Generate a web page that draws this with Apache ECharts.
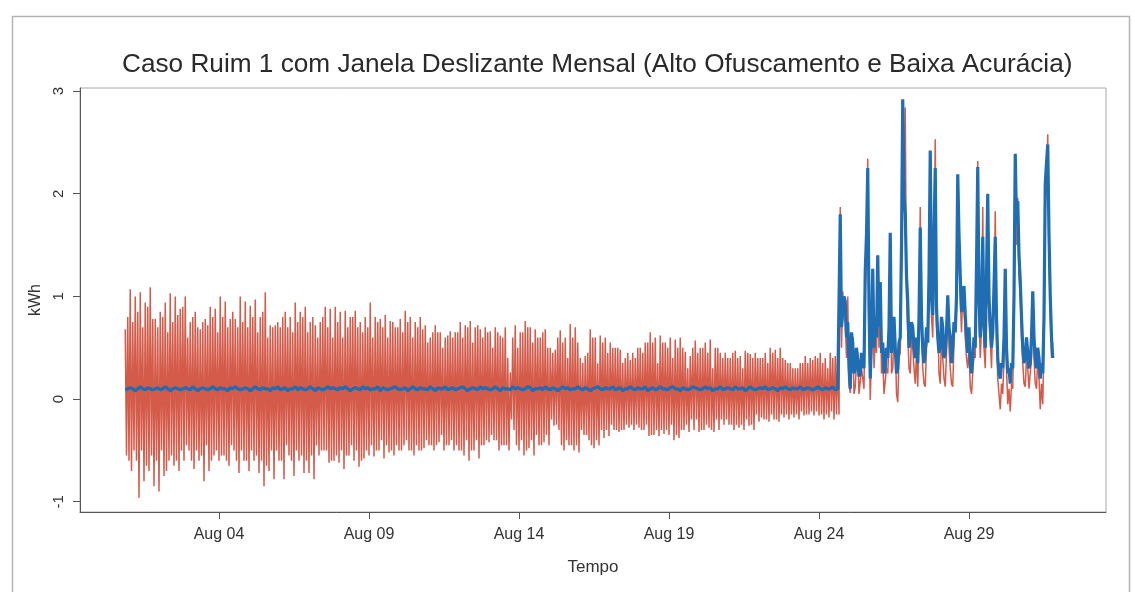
<!DOCTYPE html>
<html>
<head>
<meta charset="utf-8">
<script src="https://cdn.jsdelivr.net/npm/echarts@6/dist/echarts.min.js"></script>
<style>
html,body{margin:0;padding:0;background:#fff;}
#chart{width:1135px;height:592px;}
</style>
</head>
<body>
<div id="chart"></div>
<script>
// ---- data (local time) ----
const seriesStart = [2015, 6, 31, 21]; // Jul 31 21:00
const stepHoursObfA = 1; // obfuscated readings before the change: hourly
const stepHoursRealA = 2; // real readings before the change: every 2 hours
const stepHoursB = 1;    // all readings after the change: hourly
const changeHour = 572;  // hours after start when the window changes
const xTickDays = [4, 9, 14, 19, 24, 29];
const xTickLabels = ['Aug 04', 'Aug 09', 'Aug 14', 'Aug 19', 'Aug 24', 'Aug 29'];
const yTicks = [-1, 0, 1, 2, 3];

// obfuscated series (red), hourly, before the window change (one row per day)
const obfuscatedA = [
  0.68,-0.55,0.8,-0.6,1.07,-0.7,0.75,-0.5,1.0,-0.6,0.85,-0.96,1.04,-0.5,0.7,-0.8,0.94,-0.65,0.9,-0.7,1.09,-0.55,0.78,-0.85,
  0.78,-0.6,0.7,-0.9,0.85,-0.5,0.8,-0.75,0.94,-0.7,0.65,-0.6,1.03,-0.55,0.75,-0.65,1.0,-0.6,0.82,-0.7,0.88,-0.5,0.9,-0.6,
  1.0,-0.45,0.6,-0.5,0.75,-0.6,0.8,-0.68,0.85,-0.5,0.7,-0.6,0.68,-0.55,0.75,-0.8,0.78,-0.45,0.72,-0.7,0.9,-0.6,0.8,-0.55,
  0.88,-0.5,0.65,-0.6,1.0,-0.55,0.8,-0.55,0.95,-0.6,0.7,-0.65,0.78,-0.45,0.85,-0.5,0.78,-0.6,0.7,-0.72,1.0,-0.5,0.75,-0.6,
  0.95,-0.6,0.7,-0.7,0.91,-0.5,0.8,-0.6,0.97,-0.55,0.65,-0.72,0.8,-0.6,0.85,-0.85,1.04,-0.65,0.6,-0.7,0.72,-0.5,0.7,-0.78,
  0.72,-0.5,0.75,-0.6,0.7,-0.6,0.8,-0.78,0.85,-0.45,0.7,-0.55,0.8,-0.6,0.65,-0.75,0.94,-0.5,0.75,-0.6,0.85,-0.55,0.8,-0.72,
  0.9,-0.6,0.65,-0.72,0.75,-0.55,0.8,-0.78,0.72,-0.45,0.6,-0.55,0.75,-0.5,0.8,-0.5,0.9,-0.5,0.7,-0.62,0.88,-0.6,0.6,-0.6,
  0.9,-0.55,0.75,-0.62,0.85,-0.5,0.6,-0.68,0.86,-0.55,0.7,-0.55,0.8,-0.45,0.8,-0.6,0.86,-0.5,0.7,-0.66,0.75,-0.6,0.65,-0.58,
  0.8,-0.5,0.7,-0.55,0.94,-0.45,0.6,-0.56,0.8,-0.5,0.75,-0.5,0.78,-0.4,0.7,-0.58,0.82,-0.45,0.6,-0.52,0.76,-0.5,0.75,-0.55,
  0.7,-0.45,0.7,-0.5,0.78,-0.5,0.65,-0.45,0.86,-0.4,0.75,-0.5,0.8,-0.5,0.6,-0.55,0.75,-0.45,0.7,-0.5,0.8,-0.5,0.68,-0.48,
  0.72,-0.4,0.55,-0.45,0.6,-0.45,0.65,-0.5,0.72,-0.45,0.65,-0.42,0.65,-0.35,0.5,-0.5,0.6,-0.45,0.62,-0.45,0.66,-0.4,0.6,-0.5,
  0.65,-0.45,0.65,-0.5,0.75,-0.5,0.6,-0.55,0.72,-0.4,0.7,-0.6,0.76,-0.5,0.55,-0.5,0.7,-0.4,0.72,-0.58,0.68,-0.45,0.6,-0.45,
  0.7,-0.4,0.65,-0.42,0.66,-0.35,0.5,-0.4,0.7,-0.4,0.65,-0.5,0.62,-0.45,0.6,-0.45,0.7,-0.45,0.4,-0.5,0.26,-0.2,0.6,-0.3,
  0.72,-0.45,0.5,-0.5,0.65,-0.4,0.65,-0.55,0.76,-0.5,0.7,-0.48,0.7,-0.4,0.55,-0.55,0.68,-0.35,0.6,-0.45,0.6,-0.45,0.65,-0.42,
  0.68,-0.35,0.5,-0.45,0.5,-0.2,0.45,-0.26,0.48,-0.25,0.6,-0.3,0.67,-0.45,0.55,-0.5,0.6,-0.4,0.4,-0.45,0.73,-0.45,0.6,-0.5,
  0.7,-0.45,0.55,-0.52,0.4,-0.3,0.35,-0.35,0.42,-0.35,0.45,-0.4,0.68,-0.45,0.6,-0.48,0.6,-0.4,0.35,-0.45,0.62,-0.3,0.55,-0.38,
  0.6,-0.3,0.45,-0.36,0.55,-0.25,0.5,-0.3,0.5,-0.3,0.5,-0.32,0.48,-0.3,0.35,-0.3,0.4,-0.25,0.45,-0.28,0.38,-0.25,0.45,-0.3,
  0.4,-0.25,0.5,-0.28,0.5,-0.3,0.45,-0.3,0.55,-0.25,0.55,-0.36,0.65,-0.35,0.55,-0.35,0.6,-0.3,0.35,-0.36,0.62,-0.3,0.55,-0.34,
  0.55,-0.3,0.5,-0.35,0.6,-0.25,0.4,-0.4,0.58,-0.35,0.5,-0.38,0.6,-0.3,0.5,-0.3,0.46,-0.25,0.3,-0.32,0.42,-0.2,0.5,-0.3,
  0.57,-0.2,0.45,-0.32,0.5,-0.3,0.5,-0.3,0.55,-0.25,0.45,-0.28,0.58,-0.3,0.3,-0.32,0.5,-0.2,0.5,-0.3,0.45,-0.2,0.4,-0.25,
  0.45,-0.2,0.4,-0.25,0.4,-0.25,0.45,-0.3,0.47,-0.25,0.4,-0.28,0.42,-0.25,0.3,-0.3,0.47,-0.2,0.45,-0.26,0.44,-0.25,0.4,-0.3,
  0.45,-0.15,0.4,-0.22,0.4,-0.18,0.4,-0.2,0.45,-0.2,0.35,-0.22,0.5,-0.15,0.45,-0.2,0.48,-0.2,0.4,-0.22,0.5,-0.15,0.4,-0.18,
  0.38,-0.15,0.35,-0.2,0.35,-0.15,0.3,-0.18,0.3,-0.15,0.3,-0.2,0.35,-0.12,0.35,-0.16,0.42,-0.15,0.35,-0.15,0.4,-0.12,0.38,-0.16,
  0.42,-0.12,0.4,-0.16,0.45,-0.15,0.35,-0.2,0.4,-0.15,0.3,-0.18,0.45,-0.12,0.4,-0.2,0.42,-0.15,0.4,-0.15
];
// obfuscated series (red), hourly, after the window change
const obfuscatedB = [
  1.87,0.5,1.05,0.8,0.75,0.4,1.0,0.15,0.06,0.45,0.6,0.05,0.12,0.35,0.45,0.05,0.05,0.3,0.3,0.1,1.1,1.4,2.34,0.7,
  -0.01,0.45,1.2,0.3,0.6,0.45,1.2,0.5,1.1,0.25,0.4,0.05,0.06,0.3,0.25,0.55,1.5,0.25,0.3,0.65,0.6,0.05,-0.03,0.4,
  0.45,1.3,2.5,2.1,2.84,1.0,1.0,0.3,0.25,0.6,0.5,0.3,0.15,0.45,0.12,0.65,1.87,0.6,0.3,0.15,0.12,0.5,0.6,1.0,
  2.3,0.8,0.6,1.4,2.53,0.7,0.75,0.25,0.15,0.6,0.4,0.2,0.12,0.45,0.9,0.5,0.3,0.15,0.12,0.55,0.8,0.85,1.95,1.4,
  1.0,0.65,1.1,0.9,0.6,0.4,0.3,0.5,0.12,0.05,0.25,0.45,0.4,1.1,2.32,0.8,0.4,0.7,1.87,0.5,0.3,1.0,1.8,0.8,
  0.6,0.3,0.8,0.9,1.83,0.6,0.2,0.05,-0.1,0.15,0.05,0.4,1.1,0.3,-0.05,0.1,-0.12,0.15,0.1,0.8,2.2,1.5,1.96,1.2,
  1.0,0.6,0.35,0.15,0.12,0.4,0.3,0.1,0.1,0.4,0.95,0.4,0.15,0.1,0.4,0.2,-0.1,0.15,-0.05,0.6,1.9,2.1,2.58,1.4,
  0.85,0.4,0.55
];
// real consumption (blue), every 2 hours, before the window change
const realA = [
  0.09,0.1,0.11,0.1,0.08,0.1,0.12,0.1,0.09,0.11,0.1,0.09,
  0.1,0.11,0.09,0.1,0.12,0.1,0.08,0.1,0.11,0.1,0.09,0.1,
  0.11,0.1,0.09,0.12,0.1,0.08,0.1,0.11,0.1,0.09,0.1,0.12,
  0.1,0.09,0.11,0.1,0.1,0.08,0.11,0.1,0.12,0.1,0.09,0.1,
  0.11,0.1,0.08,0.1,0.12,0.1,0.09,0.11,0.1,0.1,0.08,0.11,
  0.1,0.12,0.09,0.1,0.11,0.08,0.1,0.1,0.12,0.09,0.11,0.1,
  0.09,0.1,0.12,0.1,0.08,0.11,0.1,0.09,0.1,0.12,0.1,0.11,
  0.1,0.09,0.11,0.1,0.12,0.1,0.08,0.1,0.11,0.1,0.09,0.12,
  0.1,0.11,0.09,0.1,0.1,0.12,0.08,0.11,0.1,0.09,0.1,0.11,
  0.12,0.1,0.09,0.1,0.11,0.08,0.1,0.12,0.1,0.09,0.11,0.1,
  0.1,0.09,0.12,0.1,0.08,0.11,0.1,0.1,0.12,0.09,0.1,0.11,
  0.09,0.1,0.11,0.12,0.1,0.08,0.1,0.11,0.1,0.09,0.12,0.1,
  0.11,0.1,0.09,0.1,0.12,0.1,0.08,0.11,0.1,0.1,0.09,0.12,
  0.1,0.11,0.1,0.09,0.1,0.12,0.11,0.08,0.1,0.1,0.11,0.09,
  0.12,0.1,0.09,0.11,0.1,0.08,0.1,0.12,0.1,0.11,0.09,0.1,
  0.1,0.12,0.1,0.09,0.11,0.1,0.08,0.1,0.11,0.12,0.1,0.09,
  0.11,0.1,0.1,0.12,0.09,0.1,0.11,0.08,0.1,0.1,0.12,0.1,
  0.09,0.11,0.1,0.1,0.12,0.08,0.1,0.11,0.09,0.1,0.12,0.1,
  0.1,0.09,0.11,0.12,0.1,0.1,0.08,0.11,0.1,0.09,0.1,0.12,
  0.11,0.1,0.09,0.1,0.12,0.1,0.11,0.08,0.1,0.1,0.12,0.09,
  0.1,0.11,0.1,0.09,0.12,0.1,0.1,0.11,0.08,0.1,0.12,0.1,
  0.09,0.1,0.11,0.1,0.12,0.09,0.1,0.11,0.1,0.08,0.11,0.1,
  0.12,0.1,0.09,0.11,0.1,0.1,0.12,0.09,0.1,0.11,0.1,0.09,
  0.1,0.12,0.1,0.09,0.11,0.1,0.1,0.12,0.09,0.1
];
// real consumption (blue), hourly, after the window change
const realB = [
  1.8,0.7,0.85,1.0,0.95,0.6,0.75,0.3,0.1,0.65,0.55,0.25,0.3,0.5,0.38,0.22,0.25,0.45,0.4,0.3,1.25,1.6,2.25,0.9,
  0.2,0.6,1.27,0.5,0.8,0.6,1.4,0.7,1.14,0.45,0.55,0.25,0.3,0.5,0.4,0.7,1.62,0.45,0.55,0.8,0.5,0.25,0.3,0.55,
  0.6,1.5,2.92,2.0,1.8,1.2,0.95,0.5,0.6,0.75,0.7,0.5,0.4,0.6,0.35,0.8,1.67,0.8,0.5,0.35,0.45,0.7,0.55,1.2,
  2.42,1.0,0.82,1.6,2.25,0.9,0.6,0.45,0.5,0.8,0.7,0.4,0.45,0.65,1.01,0.7,0.6,0.35,0.5,0.75,0.65,1.0,2.19,1.6,
  1.2,0.85,0.9,1.1,0.82,0.6,0.45,0.7,0.35,0.25,0.4,0.6,0.5,1.3,2.26,1.0,0.6,0.9,1.58,0.7,0.5,1.2,2.0,1.0,
  0.7,0.5,0.65,1.1,1.58,0.8,0.4,0.25,0.2,0.35,0.3,0.6,1.27,0.5,0.25,0.3,0.15,0.35,0.3,1.0,2.39,1.7,1.93,1.4,
  1.15,0.8,0.5,0.35,0.4,0.6,0.45,0.3,0.35,0.6,1.05,0.6,0.4,0.3,0.5,0.4,0.2,0.35,0.25,0.8,2.09,2.3,2.48,1.6,
  1.0,0.6,0.4
];
const titleText = 'Caso Ruim 1 com Janela Deslizante Mensal (Alto Ofuscamento e Baixa Acurácia)';

// ---- build ----
const HOUR = 3600 * 1000;
const t0 = Date.UTC(seriesStart[0], seriesStart[1], seriesStart[2], seriesStart[3]);
function toPairs(vals, startMs, stepH) { return vals.map((v, i) => [startMs + i * stepH * HOUR, v]); }
const tChange = t0 + changeHour * HOUR;
const redData = toPairs(obfuscatedA, t0, stepHoursObfA).concat(toPairs(obfuscatedB, tChange, stepHoursB));
const blueData = toPairs(realA, t0, stepHoursRealA).concat(toPairs(realB, tChange, stepHoursB));
const xTicks = xTickDays.map(d => Date.UTC(seriesStart[0], 7, d));
const xMin = Date.UTC(seriesStart[0], 6, 30, 8, 48);
const xMax = Date.UTC(seriesStart[0], 8, 2, 13, 36);

const chart = echarts.init(document.getElementById('chart'), null, { renderer: 'canvas' });
const FONT = '"Liberation Sans", Arial, sans-serif';
chart.setOption({
  animation: false,
  backgroundColor: '#fff',
  title: {
    text: titleText,
    left: 117,
    top: 47,
    textStyle: { fontFamily: FONT, fontSize: 26.2, fontWeight: 'normal', color: '#2a2a2a' }
  },
  graphic: [{
    type: 'rect', left: 10, top: 14, silent: true,
    shape: { width: 1117, height: 600 },
    style: { fill: 'none', stroke: '#b5b5b5', lineWidth: 1.5 }
  }],
  grid: {
    left: 80, right: 29, top: 88, bottom: 80,
    show: true, borderColor: '#a8a8a8', borderWidth: 1, backgroundColor: 'transparent'
  },
  xAxis: {
    type: 'value', min: xMin, max: xMax,
    name: 'Tempo', nameLocation: 'middle', nameGap: 47,
    nameTextStyle: { fontFamily: FONT, fontSize: 17, color: '#333' },
    axisLine: { show: true, onZero: false, lineStyle: { color: '#555', width: 1 } },
    axisTick: { show: true, length: 7, customValues: xTicks, lineStyle: { color: '#555' } },
    axisLabel: {
      customValues: xTicks, margin: 15,
      fontFamily: FONT, fontSize: 16, color: '#333',
      formatter: v => xTickLabels[xTicks.indexOf(v)] || ''
    },
    splitLine: { show: false }
  },
  yAxis: {
    type: 'value', min: -1.1, max: 3.03,
    name: 'kWh', nameLocation: 'middle', nameGap: 36, nameRotate: 90,
    nameTextStyle: { fontFamily: FONT, fontSize: 16, color: '#333' },
    axisLine: { show: true, onZero: false, lineStyle: { color: '#555', width: 1 } },
    axisTick: { show: true, length: 7, customValues: yTicks, lineStyle: { color: '#555' } },
    axisLabel: {
      customValues: yTicks, rotate: 90, margin: 14,
      fontFamily: FONT, fontSize: 15, color: '#333'
    },
    splitLine: { show: false }
  },
  series: [
    {
      name: 'Ofuscado', type: 'line', data: redData, showSymbol: false, sampling: null,
      lineStyle: { color: '#d45a49', width: 1.5 }, z: 2
    },
    {
      name: 'Real', type: 'line', data: blueData, showSymbol: false, sampling: null,
      lineStyle: { color: '#1f6db2', width: 3.2 }, z: 3
    }
  ]
});
</script>
</body>
</html>
